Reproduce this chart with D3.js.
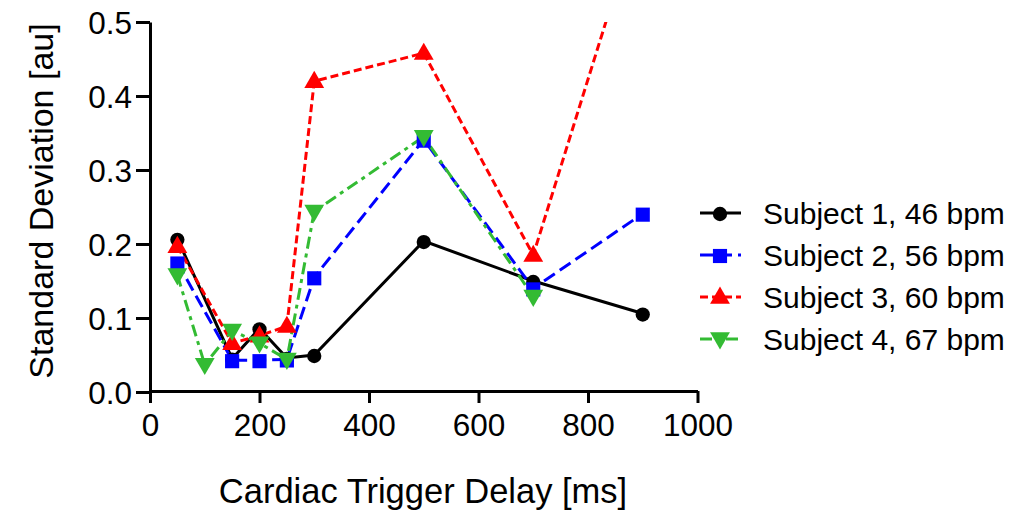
<!DOCTYPE html>
<html>
<head>
<meta charset="utf-8">
<script src="https://cdn.jsdelivr.net/npm/d3@7"></script>
<style>
  html, body { margin: 0; padding: 0; background: #fff; }
  svg { display: block; font-family: "Liberation Sans", Arial, sans-serif; }
</style>
</head>
<body>
<svg id="chart" width="1029" height="513"></svg>
<script>
// ---- data ----
const xTicks = [0, 200, 400, 600, 800, 1000];
const yTicks = [0.0, 0.1, 0.2, 0.3, 0.4, 0.5];
const seriesNames = ["Subject 1, 46 bpm", "Subject 2, 56 bpm", "Subject 3, 60 bpm", "Subject 4, 67 bpm"];
const s1x = [50, 150, 200, 250, 300, 500, 700, 900];
const s1y = [0.207, 0.045, 0.086, 0.046, 0.050, 0.204, 0.150, 0.106];
const s2x = [50, 150, 200, 250, 300, 500, 700, 900];
const s2y = [0.175, 0.043, 0.043, 0.044, 0.155, 0.341, 0.140, 0.241];
const s3x = [50, 150, 200, 250, 300, 500, 700, 900];
const s3y = [0.197, 0.066, 0.076, 0.089, 0.420, 0.458, 0.185, 0.660];
const s4x = [50, 100, 150, 200, 250, 300, 500, 700];
const s4y = [0.158, 0.037, 0.083, 0.066, 0.044, 0.244, 0.345, 0.129];

const styles = [
  { color: "#000000", dash: null, shape: d3.symbolCircle, size: 160, rot: 0 },
  { color: "#0000ff", dash: "13,6", shape: d3.symbolSquare, size: 200, rot: 0 },
  { color: "#ff0000", dash: "8,4", shape: d3.symbolTriangle, size: 170, rot: 0 },
  { color: "#33bb33", dash: "12,5,4,5", shape: d3.symbolTriangle, size: 170, rot: 180 }
];
const series = [
  { name: seriesNames[0], pts: s1x.map((x, i) => ({ x, y: s1y[i] })) },
  { name: seriesNames[1], pts: s2x.map((x, i) => ({ x, y: s2y[i] })) },
  { name: seriesNames[2], pts: s3x.map((x, i) => ({ x, y: s3y[i] })) },
  { name: seriesNames[3], pts: s4x.map((x, i) => ({ x, y: s4y[i] })) }
];

// ---- layout ----
const svg = d3.select("#chart");
const x = d3.scaleLinear().domain([0, 1000]).range([150, 697.5]);
const y = d3.scaleLinear().domain([0, 0.5]).range([392, 22]);

svg.append("defs").append("clipPath").attr("id", "plotclip")
  .append("rect").attr("x", 140).attr("y", 22).attr("width", 600).attr("height", 380);

// axes
const yAxis = svg.append("g").attr("transform", "translate(150,0)")
  .call(d3.axisLeft(y).tickValues(yTicks).tickFormat(d3.format(".1f")).tickSize(14).tickSizeOuter(0).tickPadding(4));
const xAxis = svg.append("g").attr("transform", "translate(0,391)")
  .call(d3.axisBottom(x).tickValues(xTicks).tickFormat(d3.format("d")).tickSize(12).tickSizeOuter(0).tickPadding(10));
[yAxis, xAxis].forEach(a => {
  a.select(".domain").attr("stroke", "#000").attr("stroke-width", 3);
  a.selectAll(".tick line").attr("stroke", "#000").attr("stroke-width", 3);
  a.selectAll(".tick text").attr("fill", "#000").style("font-size", "31.5px")
    .style("font-family", "'Liberation Sans', Arial, sans-serif");
});
yAxis.selectAll(".tick text").attr("dy", "0.36em");
xAxis.selectAll(".tick text").attr("dy", "0.72em");

// axis titles
svg.append("text").attr("x", 423).attr("y", 503).attr("text-anchor", "middle")
  .style("font-size", "34.5px").attr("fill", "#000").text("Cardiac Trigger Delay [ms]");
svg.append("text").attr("transform", "translate(53,201) rotate(-90)").attr("text-anchor", "middle")
  .style("font-size", "34px").attr("fill", "#000").text("Standard Deviation [au]");

// lines & markers
const plot = svg.append("g").attr("clip-path", "url(#plotclip)");
const line = d3.line().x(d => x(d.x)).y(d => y(d.y));
series.forEach((s, i) => {
  const st = styles[i];
  plot.append("path").datum(s.pts).attr("d", line)
    .attr("fill", "none").attr("stroke", st.color).attr("stroke-width", 3)
    .attr("stroke-dasharray", st.dash);
});
series.forEach((s, i) => {
  const st = styles[i];
  const sym = d3.symbol().type(st.shape).size(st.size);
  plot.selectAll(null).data(s.pts).enter().append("path")
    .attr("d", sym)
    .attr("transform", d => `translate(${x(d.x)},${y(d.y) + (st.rot ? -1 : 1)}) rotate(${st.rot})`)
    .attr("fill", st.color);
});

// legend
const legY = [213, 255, 297, 339];
series.forEach((s, i) => {
  const st = styles[i];
  const g = svg.append("g").attr("transform", `translate(0,${legY[i]})`);
  g.append("line").attr("x1", 700).attr("x2", 741).attr("y1", 0).attr("y2", 0)
    .attr("stroke", st.color).attr("stroke-width", 3).attr("stroke-dasharray", st.dash);
  g.append("path").attr("d", d3.symbol().type(st.shape).size(st.size)())
    .attr("transform", `translate(720,${st.rot ? -1 : 1}) rotate(${st.rot})`).attr("fill", st.color);
  g.append("text").attr("x", 763).attr("y", 10.5).style("font-size", "30px").attr("fill", "#000").text(s.name);
});
</script>
</body>
</html>
